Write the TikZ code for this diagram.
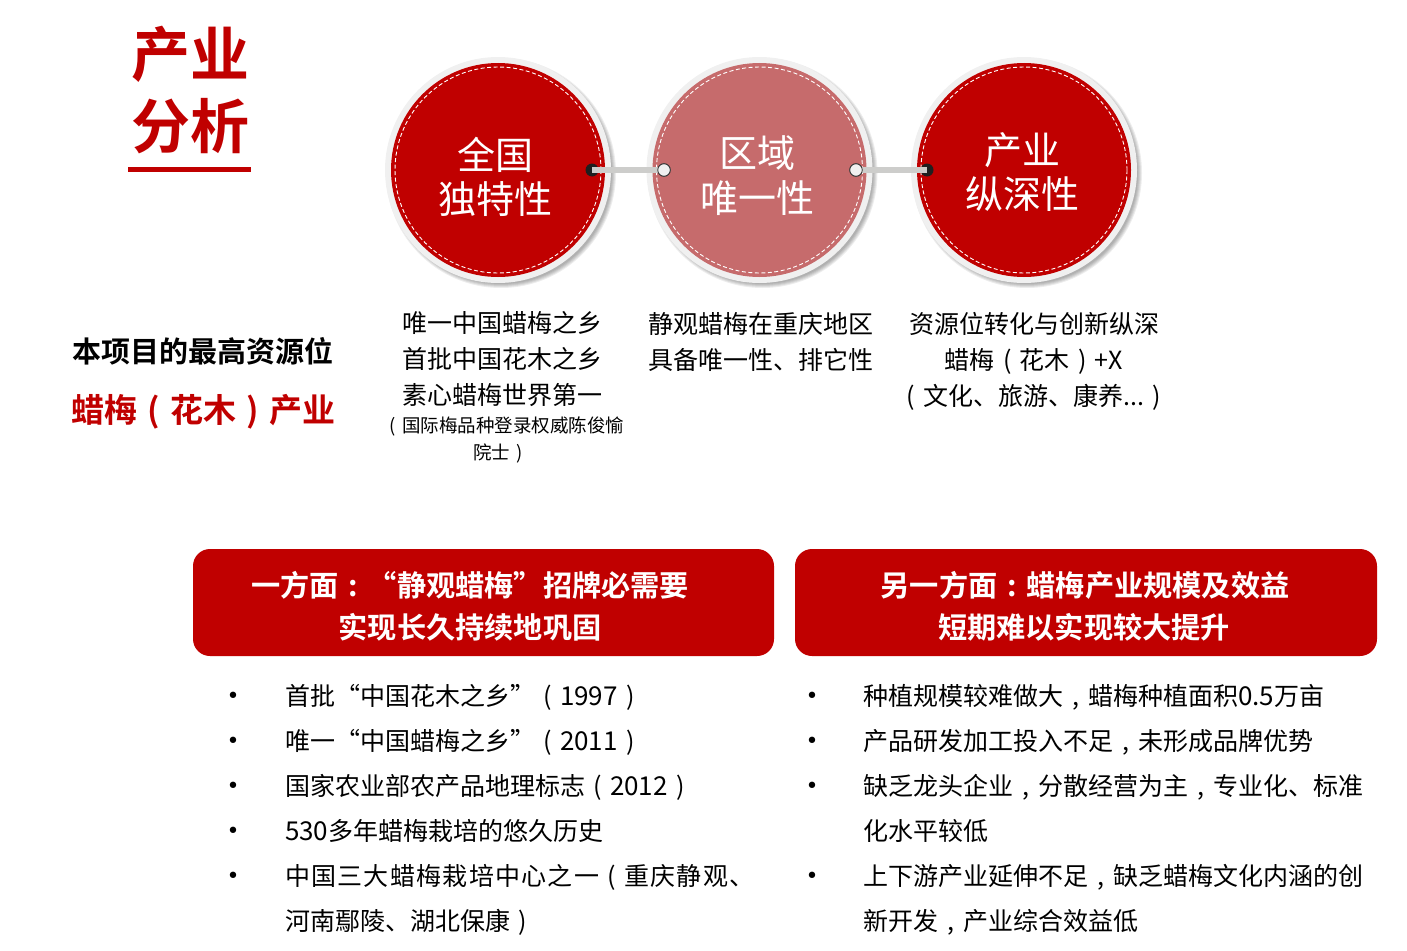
\documentclass[tikz,border=0pt]{standalone}
\usepackage{fontspec}
\setmainfont{Noto Sans CJK SC}[BoldFont={Noto Sans CJK SC Bold}]
\newfontfamily\bulletfont{DejaVu Sans}
\definecolor{brandred}{HTML}{C00000}
\definecolor{paleRed}{HTML}{C66B6C}
\definecolor{ringgrey}{HTML}{F0F0F0}
\definecolor{linkgrey}{HTML}{CDCDCB}
\newcommand{\px}[1]{\fontsize{#1pt}{#1pt}\selectfont}
% a punctuation mark centred in a full-width slot
\newcommand{\fw}[1]{\makebox[1em][c]{#1}}
\newcommand{\dg}[1]{{\fontsize{26pt}{26pt}\selectfont #1}}
\tikzset{
  x=1pt,y=-1pt,
  txt/.style={inner sep=0pt,outer sep=0pt,anchor=base},
  ltxt/.style={inner sep=0pt,outer sep=0pt,anchor=base west,font=\px{25}},
  ctxt/.style={txt,font=\px{25}},
  circtxt/.style={txt,text=white,font=\px{38}},
  headtxt/.style={txt,text=white,font=\bfseries\px{29.2}},
  bul/.style={inner sep=0pt,outer sep=0pt,anchor=base,font=\bulletfont\px{22}},
  ring/.style={circle,fill=ringgrey,minimum size=226pt,inner sep=0pt},
  disc/.style={circle,minimum size=214pt,inner sep=0pt},
  stitch/.style={draw=white,line width=0.9pt,dash pattern=on 4pt off 2.5pt},
  banner/.style={fill=brandred,rounded corners=17pt},
  blackdot/.style={circle,fill=black!88,minimum size=13pt,inner sep=0pt},
  whitedot/.style={circle,draw=black!80,line width=0.8pt,fill=black!6,minimum size=12.5pt,inner sep=0pt},
  link/.style={draw=linkgrey,line width=5.5pt},
  softshadow/.style={fill=black,opacity=0.07},
}
\newcommand{\badge}[3]{%
  \foreach \rr in {115,114,113,112,111}{\fill[softshadow] (#1+3,173) circle (\rr);}
  \node[ring] (#3ring) at (#1,170) {};
  \node[disc,fill=#2] (#3disc) at (#1,170) {};
  \draw[stitch] (#1,170) circle (103);
}
\begin{document}
\begin{tikzpicture}
\useasboundingbox (0,0) rectangle (1407,950);
\node[txt,text=brandred,font=\bfseries\px{59}] (t1) at (190,77) {产业};
\node[txt,text=brandred,font=\bfseries\px{59}] (t2) at (190,148) {分析};
\fill[brandred] (128,167) rectangle (251,171.5);

\badge{498}{brandred}{a}
\badge{759.5}{paleRed}{b}
\badge{1024}{brandred}{c}

\node[blackdot] (a1) at (592,170) {};
\node[blackdot] (c1) at (927,170) {};
\node[whitedot] (b1) at (664,170) {};
\node[whitedot] (b2) at (856,170) {};
\draw[link] (a1.center) -- (b1.center);
\draw[link] (b2.center) -- (c1.center);
\node[whitedot] (b1top) at (664,170) {};
\node[whitedot] (b2top) at (856,170) {};

\node[circtxt] (a1t) at (495.5,169) {全国};
\node[circtxt] (a2t) at (495.5,213) {独特性};
\node[circtxt] (b1t) at (757,167) {区域};
\node[circtxt] (b2t) at (757,212) {唯一性};
\node[circtxt] (c1t) at (1022.5,164) {产业};
\node[circtxt] (c2t) at (1022.5,208) {纵深性};

\node[txt,font=\bfseries\px{29}] (s1) at (203,362) {本项目的最高资源位};
\node[txt,text=brandred,font=\bfseries\px{33}] (s2) at (203,422) {蜡梅\fw{(}花木\fw{)}产业};

\node[ctxt] (d1) at (502,332) {唯一中国蜡梅之乡};
\node[ctxt] (d2) at (502,368) {首批中国花木之乡};
\node[ctxt] (d3) at (502,404) {素心蜡梅世界第一};
\node[txt,font=\px{18.5}] (d4) at (504,432) {\fw{(}国际梅品种登录权威陈俊愉};
\node[txt,font=\px{18.5}] (d5) at (501,459) {院士\fw{)}};

\node[ctxt] (e1) at (761,333) {静观蜡梅在重庆地区};
\node[ctxt] (e2) at (761,369) {具备唯一性、排它性};

\node[ctxt] (f1) at (1034,333) {资源位转化与创新纵深};
\node[ctxt] (f2) at (1034,369) {蜡梅\fw{(}花木\fw{)}+X};
\node[ctxt] (f3) at (1034,405) {\fw{(}文化、旅游、康养...\fw{)}};

\fill[banner] (193,549) rectangle (774,656);
\fill[banner] (795,549) rectangle (1377,656);
\node[headtxt] (h1) at (470,596) {一方面\fw{:}“静观蜡梅”招牌必需要};
\node[headtxt] (h2) at (470,638) {实现长久持续地巩固};
\node[headtxt] (h3) at (1085,596) {另一方面\fw{:}蜡梅产业规模及效益};
\node[headtxt] (h4) at (1084,638) {短期难以实现较大提升};

\node[bul] (lb1) at (233,703) {•};
\node[bul] (lb2) at (233,748) {•};
\node[bul] (lb3) at (233,793) {•};
\node[bul] (lb4) at (233,838) {•};
\node[bul] (lb5) at (233,883) {•};
\node[ltxt] (l1) at (285,705) {首批“中国花木之乡”\fw{(}\dg{1997}\fw{)}};
\node[ltxt] (l2) at (285,750) {唯一“中国蜡梅之乡”\fw{(}\dg{2011}\fw{)}};
\node[ltxt] (l3) at (285,795) {国家农业部农产品地理标志\fw{(}\dg{2012}\fw{)}};
\node[ltxt] (l4) at (285,840) {\dg{530}多年蜡梅栽培的悠久历史};
\node[ltxt] (l5) at (285,885) {\addfontfeature{LetterSpace=5.2}中国三大蜡梅栽培中心之一\fw{(}重庆静观、};
\node[ltxt] (l6) at (285,930) {河南鄢陵、湖北保康\fw{)}};

\node[bul] (rb1) at (812,703) {•};
\node[bul] (rb2) at (812,748) {•};
\node[bul] (rb3) at (812,793) {•};
\node[bul] (rb4) at (812,883) {•};
\node[ltxt] (r1) at (863,705) {种植规模较难做大\fw{,}蜡梅种植面积\dg{0.5}万亩};
\node[ltxt] (r2) at (863,750) {产品研发加工投入不足\fw{,}未形成品牌优势};
\node[ltxt] (r3) at (863,795) {缺乏龙头企业\fw{,}分散经营为主\fw{,}专业化、标准};
\node[ltxt] (r4) at (863,840) {化水平较低};
\node[ltxt] (r5) at (863,885) {上下游产业延伸不足\fw{,}缺乏蜡梅文化内涵的创};
\node[ltxt] (r6) at (863,930) {新开发\fw{,}产业综合效益低};
\end{tikzpicture}
\end{document}
